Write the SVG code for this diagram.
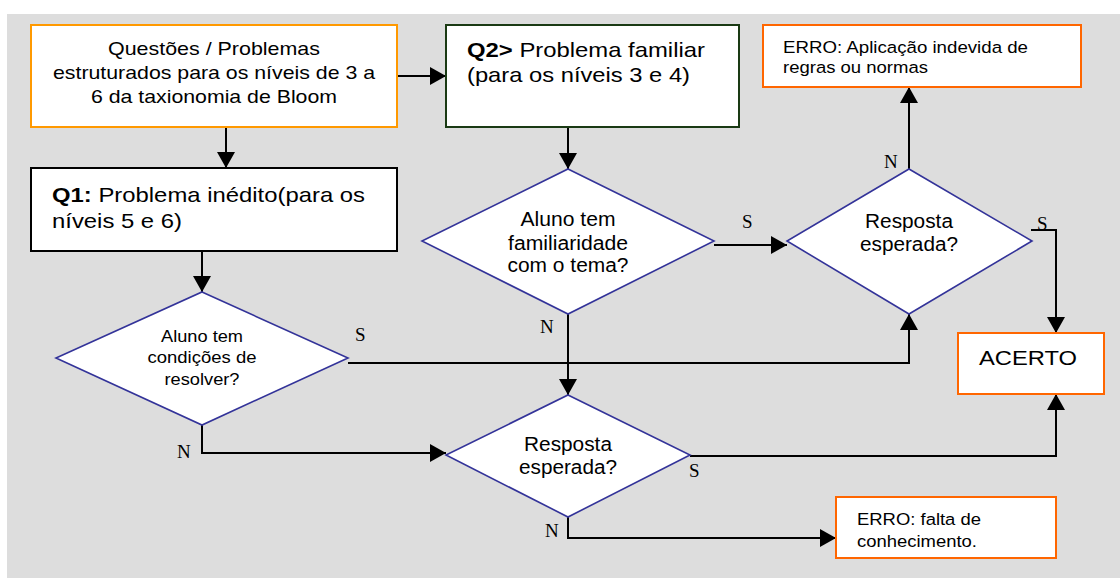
<svg xmlns="http://www.w3.org/2000/svg" width="1120" height="578" viewBox="0 0 1120 578">
  <style>
    .bg { fill: #dddddd; }
    .box { fill: #ffffff; stroke-width: 2; }
    .start { stroke: #ff9900; }
    .q1 { stroke: #000000; }
    .q2 { stroke: #1a3a14; }
    .out { stroke: #ff6600; }
    .dec { fill: #ffffff; stroke: #333399; stroke-width: 1.6; }
    .t { font-family: "Liberation Sans", Arial, sans-serif; fill: #000000; }
    .lbl { font-family: "Liberation Serif", "Times New Roman", serif; font-size: 19px; fill: #000000; }
    .c { text-anchor: middle; }
    .wire { fill: none; stroke: #000000; stroke-width: 2; }
  </style>
  <defs>
    <marker id="arrow" markerUnits="userSpaceOnUse" markerWidth="17" markerHeight="19" refX="16" refY="9" orient="auto">
      <path d="M0,0 L16,9 L0,18 z" fill="#000000"/>
    </marker>
  </defs>

  <rect class="bg" x="7" y="14" width="1113" height="564"/>

  <!-- connectors -->
  <g id="connectors">
    <path class="wire" d="M397,76 H446" marker-end="url(#arrow)"/>
    <path class="wire" d="M226,127 V168" marker-end="url(#arrow)"/>
    <path class="wire" d="M202,251 V292" marker-end="url(#arrow)"/>
    <path class="wire" d="M568,127 V169" marker-end="url(#arrow)"/>
    <path class="wire" d="M714,245 H787" marker-end="url(#arrow)"/>
    <path class="wire" d="M909,169 V87" marker-end="url(#arrow)"/>
    <path class="wire" d="M1031,230 H1056 V333" marker-end="url(#arrow)"/>
    <path class="wire" d="M348,363 H909 V314" marker-end="url(#arrow)"/>
    <path class="wire" d="M202,425 V453 H446" marker-end="url(#arrow)"/>
    <path class="wire" d="M568,314 V395" marker-end="url(#arrow)"/>
    <path class="wire" d="M690,456 H1056 V394" marker-end="url(#arrow)"/>
    <path class="wire" d="M568,517 V538 H836" marker-end="url(#arrow)"/>

    <text class="lbl" x="355" y="341">S</text>
    <text class="lbl" x="177" y="458">N</text>
    <text class="lbl" x="540" y="333">N</text>
    <text class="lbl" x="742" y="228">S</text>
    <text class="lbl" x="884" y="168">N</text>
    <text class="lbl" x="1037" y="230">S</text>
    <text class="lbl" x="689" y="477">S</text>
    <text class="lbl" x="545" y="537">N</text>
  </g>

  <!-- start box -->
  <g id="start">
    <rect class="box start" x="31" y="25" width="366" height="102"/>
    <text class="t c" x="214" y="55" font-size="18.6" textLength="212" lengthAdjust="spacingAndGlyphs">Questões / Problemas</text>
    <text class="t c" x="214" y="79" font-size="18.6" textLength="322" lengthAdjust="spacingAndGlyphs">estruturados para os níveis de 3 a</text>
    <text class="t c" x="214" y="103" font-size="18.6" textLength="246" lengthAdjust="spacingAndGlyphs">6 da taxionomia de Bloom</text>
  </g>

  <!-- Q1 box -->
  <g id="q1">
    <rect class="box q1" x="31" y="168" width="366" height="83"/>
    <text class="t" x="52" y="202" font-size="21" textLength="313" lengthAdjust="spacingAndGlyphs"><tspan font-weight="bold">Q1:</tspan> Problema inédito(para os</text>
    <text class="t" x="52" y="228" font-size="21" textLength="130" lengthAdjust="spacingAndGlyphs">níveis 5 e 6)</text>
  </g>

  <!-- Q2 box -->
  <g id="q2">
    <rect class="box q2" x="446" y="25" width="293" height="102"/>
    <text class="t" x="467" y="57" font-size="21" textLength="238" lengthAdjust="spacingAndGlyphs"><tspan font-weight="bold">Q2&gt;</tspan> Problema familiar</text>
    <text class="t" x="467" y="82" font-size="21" textLength="223" lengthAdjust="spacingAndGlyphs">(para os níveis 3 e 4)</text>
  </g>

  <!-- decision: can the student solve it -->
  <g id="d-condicoes">
    <polygon class="dec" points="202,292 348,358 202,425 56,358"/>
    <text class="t c" x="202" y="342" font-size="16.3" textLength="82" lengthAdjust="spacingAndGlyphs">Aluno tem</text>
    <text class="t c" x="202" y="363" font-size="16.3" textLength="109" lengthAdjust="spacingAndGlyphs">condições de</text>
    <text class="t c" x="202" y="385" font-size="16.3" textLength="75" lengthAdjust="spacingAndGlyphs">resolver?</text>
  </g>

  <!-- decision: familiarity -->
  <g id="d-familiaridade">
    <polygon class="dec" points="568,169 714,241 568,314 422,241"/>
    <text class="t c" x="568" y="226" font-size="20" textLength="95" lengthAdjust="spacingAndGlyphs">Aluno tem</text>
    <text class="t c" x="568" y="250" font-size="20" textLength="120" lengthAdjust="spacingAndGlyphs">familiaridade</text>
    <text class="t c" x="568" y="272" font-size="20" textLength="121" lengthAdjust="spacingAndGlyphs">com o tema?</text>
  </g>

  <!-- decision: expected answer (upper) -->
  <g id="d-resposta-1">
    <polygon class="dec" points="909,169 1032,241 909,314 787,241"/>
    <text class="t c" x="909" y="228" font-size="20" textLength="88" lengthAdjust="spacingAndGlyphs">Resposta</text>
    <text class="t c" x="909" y="251" font-size="20" textLength="98" lengthAdjust="spacingAndGlyphs">esperada?</text>
  </g>

  <!-- decision: expected answer (lower) -->
  <g id="d-resposta-2">
    <polygon class="dec" points="568,395 690,455 568,517 446,455"/>
    <text class="t c" x="568" y="451" font-size="20" textLength="88" lengthAdjust="spacingAndGlyphs">Resposta</text>
    <text class="t c" x="568" y="474" font-size="20" textLength="98" lengthAdjust="spacingAndGlyphs">esperada?</text>
  </g>

  <!-- error: misapplied rules -->
  <g id="erro-regras">
    <rect class="box out" x="763" y="25" width="318" height="62"/>
    <text class="t" x="783" y="53" font-size="16.3" textLength="245" lengthAdjust="spacingAndGlyphs">ERRO: Aplicação indevida de</text>
    <text class="t" x="783" y="73" font-size="16.3" textLength="145" lengthAdjust="spacingAndGlyphs">regras ou normas</text>
  </g>

  <!-- success -->
  <g id="acerto">
    <rect class="box out" x="958" y="333" width="146" height="61"/>
    <text class="t" x="979" y="365" font-size="21" textLength="98" lengthAdjust="spacingAndGlyphs">ACERTO</text>
  </g>

  <!-- error: lack of knowledge -->
  <g id="erro-conhecimento">
    <rect class="box out" x="836" y="497" width="220" height="61"/>
    <text class="t" x="857" y="525" font-size="16.3" textLength="124" lengthAdjust="spacingAndGlyphs">ERRO: falta de</text>
    <text class="t" x="857" y="547" font-size="16.3" textLength="120" lengthAdjust="spacingAndGlyphs">conhecimento.</text>
  </g>
</svg>
